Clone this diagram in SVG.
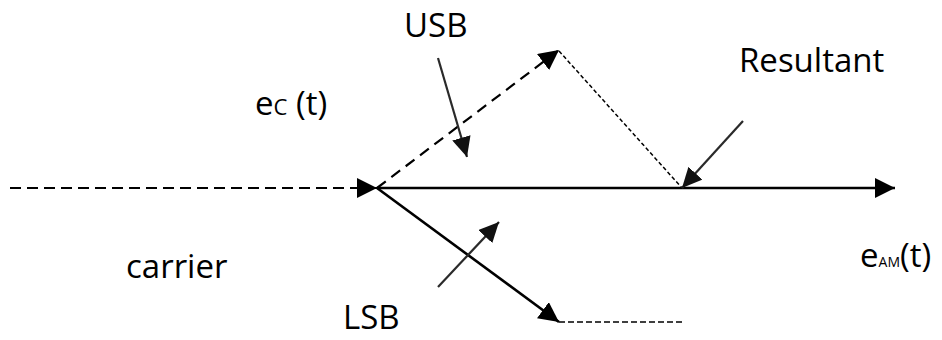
<svg xmlns="http://www.w3.org/2000/svg" width="942" height="340" viewBox="0 0 942 340">
<style>
  .t { font-family: "Open Sans", "Noto Sans", sans-serif; font-size: 33px; fill: #000; }
  .ln { fill: none; stroke: #000; }
  .ptr { fill: none; stroke: #2a2a2a; stroke-width: 2.2; }
</style>
<defs>
  <marker id="tri" markerUnits="userSpaceOnUse" markerWidth="20" markerHeight="20" refX="20" refY="10" orient="auto" viewBox="0 0 20 20">
    <path d="M0,0 L20,10 L0,20 z" fill="#000"/>
  </marker>
  <marker id="tri2" markerUnits="userSpaceOnUse" markerWidth="20" markerHeight="19" refX="20" refY="9.5" orient="auto" viewBox="0 0 20 19">
    <path d="M0,0 L20,9.5 L0,19 z" fill="#111"/>
  </marker>
</defs>
<rect width="942" height="340" fill="#fff"/>
<g id="connectors">
  <line class="ln" x1="10" y1="188" x2="377" y2="188" stroke-width="2.2" stroke-dasharray="11 6" marker-end="url(#tri)"/>
  <line class="ln" x1="377" y1="188" x2="895" y2="188" stroke-width="2.6" marker-end="url(#tri)"/>
  <line class="ln" x1="377" y1="188" x2="559" y2="50" stroke-width="2.2" stroke-dasharray="11 7" marker-end="url(#tri)"/>
  <line class="ln" x1="377" y1="188" x2="559" y2="322" stroke-width="2.6" marker-end="url(#tri)"/>
  <line class="ln" x1="559" y1="51" x2="682" y2="188" stroke-width="1.5" stroke-dasharray="4 2.5"/>
  <line class="ln" x1="559" y1="322" x2="682" y2="322" stroke-width="1.5" stroke-dasharray="6 3"/>
  <line class="ptr" x1="438" y1="58" x2="467" y2="157" marker-end="url(#tri2)"/>
  <line class="ptr" x1="743" y1="121" x2="682" y2="188" marker-end="url(#tri2)"/>
  <line class="ptr" x1="438" y1="287" x2="499" y2="222" marker-end="url(#tri2)"/>
</g>
<g id="label-usb"><text class="t" x="404" y="37">USB</text></g>
<g id="label-resultant"><text class="t" x="739" y="72">Resultant</text></g>
<g id="label-ec"><text class="t" x="255" y="115">e<tspan font-size="22">C</tspan> (t)</text></g>
<g id="label-carrier"><text class="t" x="126" y="278">carrier</text></g>
<g id="label-lsb"><text class="t" x="343" y="329">LSB</text></g>
<g id="label-eam"><text class="t" x="860" y="267">e<tspan font-size="14">AM</tspan>(t)</text></g>
</svg>
